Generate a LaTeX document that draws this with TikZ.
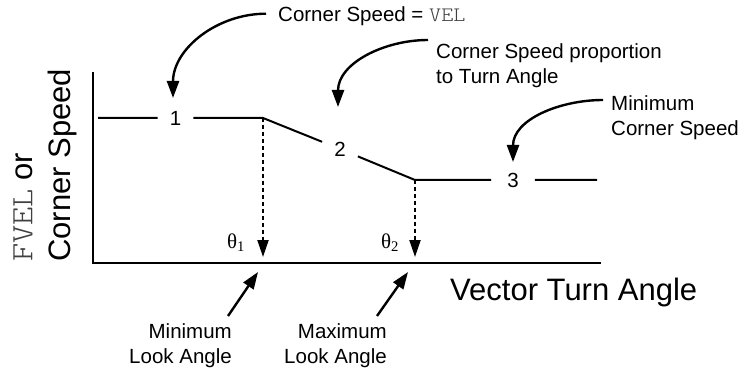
\documentclass[tikz,border=0pt]{standalone}
\usepackage{fontspec}
\setmainfont{Liberation Sans}
\newfontfamily\codefont{Latin Modern Mono Light}[FakeStretch=1.12]
\newfontfamily\greekfont{Liberation Serif}
\usetikzlibrary{arrows.meta,calc}
\newcommand{\code}[1]{{\codefont\color{black!75}#1}}

\begin{document}
\begin{tikzpicture}[
  x=1pt, y=1pt,
  every node/.style={inner sep=0pt},
  note/.style={font=\fontsize{20.5}{25}\selectfont, align=left},
  num/.style={font=\fontsize{20.5}{25}\selectfont, inner xsep=12pt, inner ysep=3pt},
  big/.style={font=\fontsize{31}{38}\selectfont},
  angle/.style={font=\greekfont\fontsize{21}{25}\selectfont, anchor=base},
  axis/.style={line width=2.6pt},
  curve/.style={line width=2pt},
  guide/.style={line width=2pt, dash pattern=on 4pt off 3pt,
                -{Triangle[length=17pt,width=11pt]}},
  pointer/.style={line width=2.4pt, -{Triangle[length=17pt,width=12pt]}},
]
  \useasboundingbox (0,0) rectangle (746,375);

  \coordinate (ytop) at (93,303);
  \coordinate (origin) at (93,112);
  \coordinate (xend) at (601,112);
  \draw[axis] (ytop) -- (origin) -- (xend);

  \coordinate (p0) at (98,257);
  \node[num] (n1) at (175.5,257) {1};
  \coordinate (k1) at (263,257);
  \node[num] (n2) at (340,226) {2};
  \coordinate (k2) at (415,195);
  \node[num, inner xsep=16pt] (n3) at (513,195) {3};
  \coordinate (p3) at (597,195);
  \draw[curve] (p0) -- (n1) -- (k1) -- (n2) -- (k2) -- (n3) -- (p3);

  \coordinate (t1) at (263,118);
  \coordinate (t2) at (415,118);
  \draw[guide] (k1) -- (t1);
  \draw[guide] (k2) -- (t2);
  \node[angle] (th1) at (236,127) {θ\textsubscript{1}};
  \node[angle] (th2) at (390,127) {θ\textsubscript{2}};

  \node[note, anchor=base west] (velnote) at (278,353) {Corner Speed = \code{VEL}};
  \node[note, anchor=north west] (propnote) at (436,332) {Corner Speed proportion\\to Turn Angle};
  \node[note, anchor=north west] (mincnote) at (611,280) {Minimum\\Corner Speed};
  \node[note, align=right, anchor=north east] (minlook) at (232,52) {Minimum\\Look Angle};
  \node[note, align=right, anchor=north east] (maxlook) at (387,52) {Maximum\\Look Angle};

  \coordinate (tip1) at (173,277);
  \coordinate (tip2) at (338,268);
  \coordinate (tip3) at (513,213);
  \coordinate (look1) at (258,103);
  \coordinate (look2) at (408,103);
  \draw[pointer] ($(velnote.west)+(-12,3)$) to[out=180,in=90] (tip1);
  \draw[pointer] ($(propnote.north west)+(-8,3)$) to[out=180,in=90] (tip2);
  \draw[pointer] ($(mincnote.north west)+(-8,-5)$) to[out=180,in=90] (tip3);
  \draw[pointer] ($(minlook.north east)+(-4,7)$) -- (look1);
  \draw[pointer] ($(maxlook.north east)+(-10,7)$) -- (look2);

  \node[big, anchor=base west] (xlabel) at (450,75) {Vector Turn Angle};
  \node[big, rotate=90, align=left, anchor=south west] (ylabel) at (77,113) {\code{FVEL} or\\Corner Speed};
\end{tikzpicture}
\end{document}
